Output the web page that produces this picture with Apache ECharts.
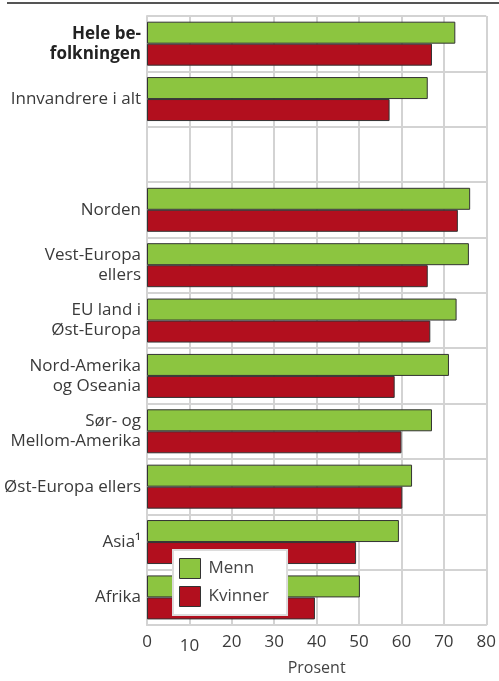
<!DOCTYPE html>
<html>
<head>
<meta charset="utf-8">
<script src="https://cdn.jsdelivr.net/npm/echarts@6/dist/echarts.min.js"></script>
<style>
html,body{margin:0;padding:0;background:#fff;}
#chart{width:499px;height:681px;}
</style>
</head>
<body>
<div id="chart"></div>
<script>
var categories = ['Hele be-\nfolkningen', 'Innvandrere i alt', '', 'Norden', 'Vest-Europa\nellers', 'EU land i\nØst-Europa', 'Nord-Amerika\nog Oseania', 'Sør- og\nMellom-Amerika', 'Øst-Europa ellers', 'Asia¹', 'Afrika'];
var menn =    [72.7, 66.2, null, 76.2, 75.9, 73.0, 71.2, 67.2, 62.5, 59.4, 50.2];
var kvinner = [67.2, 57.2, null, 73.3, 66.2, 66.8, 58.4, 60.0, 60.2, 49.3, 39.6];
var xTicks = [0, 10, 20, 30, 40, 50, 60, 70, 80];

var FONT = '"Open Sans", "Noto Sans", sans-serif';
var GRID = '#d3d3d3';
var TXT = '#3a3a3a';
var chart = echarts.init(document.getElementById('chart'), null, {renderer: 'canvas'});
chart.setOption({
  animation: false,
  backgroundColor: '#ffffff',
  textStyle: {fontFamily: FONT},
  graphic: [{
    type: 'line', shape: {x1: 7, y1: 3, x2: 499, y2: 3},
    style: {stroke: '#555555', lineWidth: 2}
  }],
  grid: {left: 147, right: 10, top: 16, bottom: 53, containLabel: false},
  legend: {
    orient: 'vertical', left: 173, top: 550,
    data: ['Menn', 'Kvinner'],
    icon: 'rect',
    itemWidth: 21, itemHeight: 20, itemGap: 7,
    padding: [8, 18, 8, 6],
    backgroundColor: '#ffffff', borderColor: '#dcdcdc', borderWidth: 2,
    textStyle: {fontFamily: FONT, fontSize: 17, color: '#444444', padding: [0, 0, 0, 3]},
    itemStyle: {borderColor: '#333333', borderWidth: 1}
  },
  xAxis: {
    type: 'value', min: 0, max: 80, interval: 10,
    name: 'Prosent', nameLocation: 'middle', nameGap: 34,
    nameTextStyle: {fontFamily: FONT, fontSize: 16, color: '#444444'},
    axisLine: {show: true, lineStyle: {color: GRID, width: 2}},
    axisTick: {show: false},
    splitLine: {show: true, lineStyle: {color: GRID, width: 2}},
    axisLabel: {
      margin: 9, fontFamily: FONT, fontSize: 17, color: TXT,
      formatter: function (v) { return xTicks.indexOf(v) === 1 ? '{d|' + v + '}' : String(v); },
      rich: {d: {fontFamily: FONT, fontSize: 17, color: TXT, padding: [4, 0, 0, 0]}}
    }
  },
  yAxis: {
    type: 'category', inverse: true, data: categories,
    axisLine: {show: true, lineStyle: {color: GRID, width: 2}},
    axisTick: {show: false},
    splitLine: {show: true, interval: 0, lineStyle: {color: GRID, width: 2}},
    axisLabel: {
      interval: 0, margin: 6, align: 'right',
      fontFamily: FONT, fontSize: 17, color: TXT, lineHeight: 20,
      formatter: function (v, i) {
        if (i === 0) { return v.split('\n').map(function (s) { return '{b|' + s + '}'; }).join('\n'); }
        return v;
      },
      rich: {b: {fontFamily: FONT, fontSize: 17, fontWeight: 'bold', color: '#222222', lineHeight: 20}}
    }
  },
  series: [
    {name: 'Menn', type: 'bar', data: menn, barWidth: 22, barGap: '0%',
     itemStyle: {color: '#8cc540', borderColor: '#333333', borderWidth: 1}},
    {name: 'Kvinner', type: 'bar', data: kvinner, barWidth: 22, barGap: '0%',
     itemStyle: {color: '#b20f1e', borderColor: '#333333', borderWidth: 1}}
  ]
});
</script>
</body>
</html>
